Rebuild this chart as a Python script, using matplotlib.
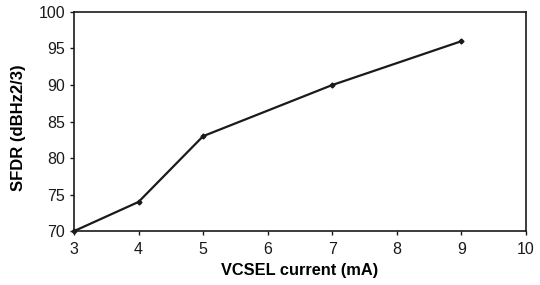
import matplotlib
matplotlib.use("Agg")
import matplotlib.pyplot as plt

current_ma = [3, 4, 5, 7, 9]
sfdr = [70, 74, 83, 90, 96]
x_ticks = [3, 4, 5, 6, 7, 8, 9, 10]
y_ticks = [70, 75, 80, 85, 90, 95, 100]

plt.rcParams['font.family'] = ['Liberation Sans', 'DejaVu Sans']

fig = plt.figure(figsize=(5.4, 2.85), dpi=100)
ax = fig.add_axes([0.137, 0.189, 0.837, 0.769])

ax.plot(current_ma, sfdr, color='#1a1a1a', linewidth=1.6,
        marker='D', markersize=2.5, clip_on=False)

ax.set_xlim(3, 10)
ax.set_ylim(70, 100)
ax.set_xticks(x_ticks)
ax.set_yticks(y_ticks)
ax.tick_params(direction='out', length=3, width=1, labelsize=11.5, colors='#1a1a1a')
ax.tick_params(axis='x', pad=5)
for s in ax.spines.values():
    s.set_linewidth(1.2)
    s.set_color('#1a1a1a')

ax.set_xlabel("VCSEL current (mA)", fontsize=11.8, fontweight='bold')
ax.set_ylabel("SFDR (dBHz2/3)", fontsize=12, fontweight='bold')
ax.xaxis.set_label_coords(0.5, -0.145)
ax.yaxis.set_label_coords(-0.106, 0.47)

fig.savefig("out.png", dpi=100)
